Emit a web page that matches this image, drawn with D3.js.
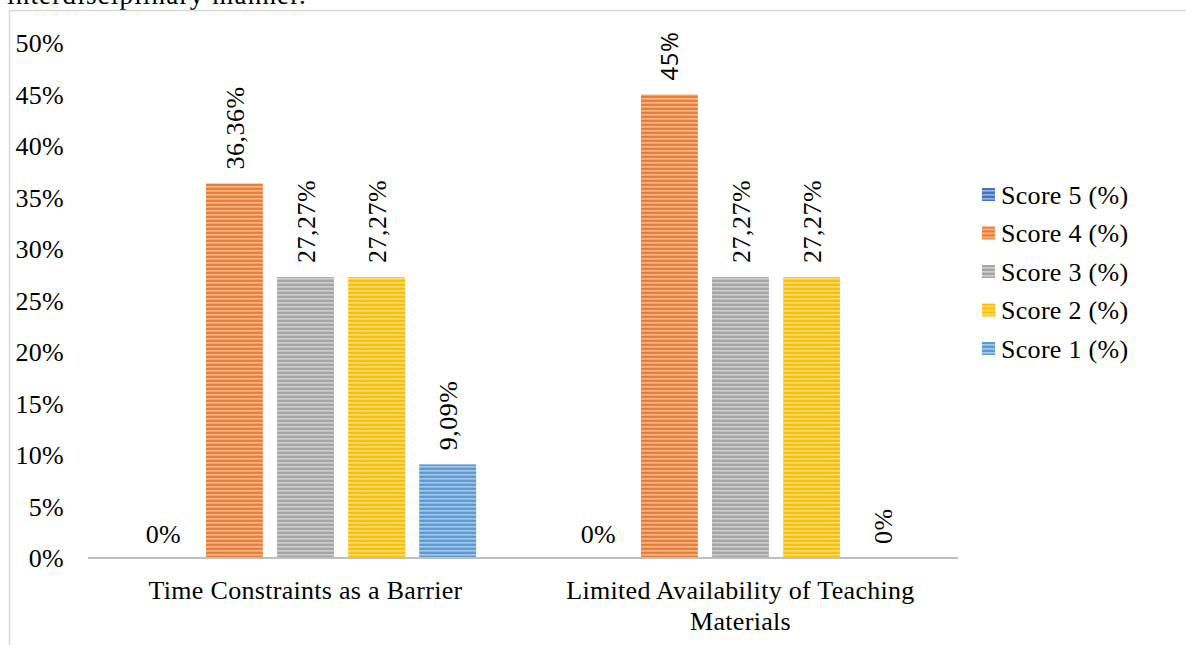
<!DOCTYPE html>
<html>
<head>
<meta charset="utf-8">
<script src="https://cdn.jsdelivr.net/npm/d3@7/dist/d3.min.js"></script>
<style>
  html, body { margin: 0; padding: 0; background: #fff; }
  svg { display: block; }
  text { font-family: "Liberation Serif", "Times New Roman", serif; fill: #000; }
</style>
</head>
<body>
<svg id="chart" width="1186" height="645"></svg>
<script>
// Categories along the x axis (second one wraps onto two lines)
const categories = ["Time Constraints as a Barrier", "Limited Availability of Teaching Materials"];
const categoryLines = [["Time Constraints as a Barrier"], ["Limited Availability of Teaching", "Materials"]];

// Series, in bar order left to right inside each group
const seriesNames = ["Score 5 (%)", "Score 4 (%)", "Score 3 (%)", "Score 2 (%)", "Score 1 (%)"];
const score5 = [0, 0];
const score4 = [36.36, 45];
const score3 = [27.27, 27.27];
const score2 = [27.27, 27.27];
const score1 = [9.09, 0];
const seriesValues = [score5, score4, score3, score2, score1];

// Value labels as printed above the bars
const labels5 = ["0%", "0%"];
const labels4 = ["36,36%", "45%"];
const labels3 = ["27,27%", "27,27%"];
const labels2 = ["27,27%", "27,27%"];
const labels1 = ["9,09%", "0%"];
const seriesLabels = [labels5, labels4, labels3, labels2, labels1];

// Y axis ticks
const yTicks = [0, 5, 10, 15, 20, 25, 30, 35, 40, 45, 50];
const yTickLabels = ["0%", "5%", "10%", "15%", "20%", "25%", "30%", "35%", "40%", "45%", "50%"];

const colors = ["#4472C4", "#ED7D31", "#A5A5A5", "#FFC000", "#5B9BD5"];

const FS = 26;      // body text size
const LS = 0.3;     // letter spacing

const svg = d3.select("#chart");

// Tail of the surrounding paragraph, cut off by the top edge
svg.append("text")
  .attr("x", 7).attr("y", 4)
  .attr("font-size", 27).attr("letter-spacing", 1.2)
  .text("interdisciplinary manner.");

// Chart frame
svg.append("path")
  .attr("d", "M9.5,645 V10.5 H1186")
  .attr("fill", "none").attr("stroke", "#d9d9d9").attr("stroke-width", 1.5);

// Horizontal stripe fills
const defs = svg.append("defs");
colors.forEach((c, i) => {
  const p = defs.append("pattern")
    .attr("id", "stripe" + i)
    .attr("patternUnits", "userSpaceOnUse")
    .attr("width", 8).attr("height", 4);
  p.append("rect").attr("width", 8).attr("height", 4).attr("fill", c);
  p.append("rect").attr("y", 2).attr("width", 8).attr("height", 1.6)
    .attr("fill", "#fff").attr("opacity", 0.45);
});

const x0 = d3.scaleBand().domain(categories).range([88, 958]).paddingInner(0).paddingOuter(0);
const x1 = d3.scaleBand().domain(seriesNames).range([0, x0.bandwidth()])
  .paddingInner(0.2).paddingOuter(0.66);
const y = d3.scaleLinear().domain([0, 50]).range([558, 43]);

// Y tick labels
const yAxis = d3.axisLeft(y).tickValues(yTicks).tickSize(0).tickPadding(0)
  .tickFormat((d, i) => yTickLabels[i]);
const gy = svg.append("g").attr("transform", "translate(64,0)").call(yAxis);
gy.select(".domain").remove();
gy.selectAll("text")
  .attr("font-family", "Liberation Serif, Times New Roman, serif")
  .attr("font-size", FS).attr("letter-spacing", LS).attr("fill", "#000")
  .attr("dy", "0.33em");

// Bars
const groups = svg.append("g").selectAll("g")
  .data(categories).join("g")
  .attr("transform", d => `translate(${x0(d)},0)`);

groups.each(function(cat, ci) {
  const g = d3.select(this);
  seriesNames.forEach((s, si) => {
    const v = seriesValues[si][ci];
    const bx = x1(s), bw = x1.bandwidth();
    if (v > 0) {
      g.append("rect")
        .attr("x", bx).attr("y", y(v))
        .attr("width", bw).attr("height", y(0) - y(v))
        .attr("fill", `url(#stripe${si})`);
    }
    const cx = bx + bw / 2;
    const lab = seriesLabels[si][ci];
    if (si === 0) {
      // Score 5 labels sit horizontally
      g.append("text")
        .attr("x", cx).attr("y", y(v) - 15)
        .attr("text-anchor", "middle")
        .attr("font-size", FS).attr("letter-spacing", LS)
        .text(lab);
    } else {
      const t = g.append("text")
        .attr("transform", `translate(${cx},${y(v) - 14}) rotate(-90)`)
        .attr("text-anchor", "start")
        .attr("dy", "0.35em")
        .attr("font-size", FS).attr("letter-spacing", 0.5)
        .text(lab);
      if (lab === "45%") {
        t.style("font-family", "'Open Sans', sans-serif").attr("font-size", 24).attr("letter-spacing", 0.5);
      }
    }
  });
});

// Category axis line
svg.append("line")
  .attr("x1", 88).attr("x2", 958).attr("y1", y(0)).attr("y2", y(0))
  .attr("stroke", "#bfbfbf").attr("stroke-width", 2);

// Category labels
categories.forEach((c, ci) => {
  const cx = x0(c) + x0.bandwidth() / 2;
  categoryLines[ci].forEach((line, li) => {
    svg.append("text")
      .attr("x", cx).attr("y", 599 + li * 31)
      .attr("text-anchor", "middle")
      .attr("font-size", FS).attr("letter-spacing", LS)
      .text(line);
  });
});

// Legend
const legend = svg.append("g").attr("transform", "translate(982,188)");
seriesNames.forEach((s, i) => {
  const row = legend.append("g").attr("transform", `translate(0,${i * 38.5})`);
  row.append("rect").attr("width", 13).attr("height", 13).attr("fill", `url(#stripe${i})`);
  row.append("text").attr("x", 19).attr("y", 6.5).attr("dy", "0.35em")
    .attr("font-size", FS).attr("letter-spacing", LS)
    .text(s);
});
</script>
</body>
</html>
